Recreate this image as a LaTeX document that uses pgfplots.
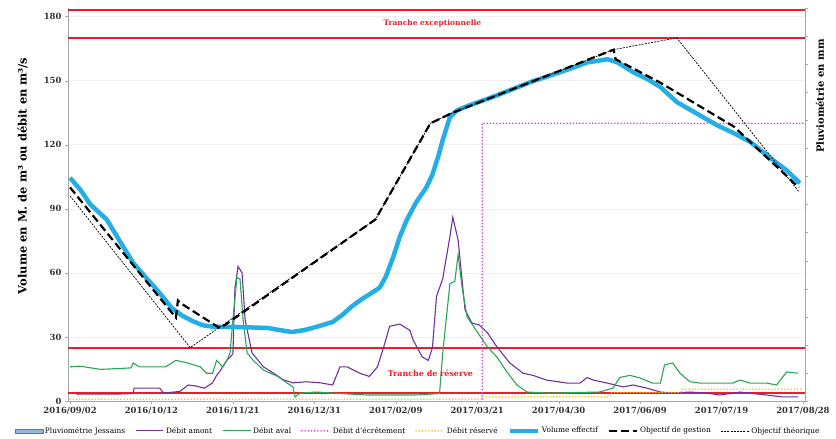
\documentclass[border=0pt]{standalone}
\usepackage{fontspec}
\setmainfont{DejaVu Serif}
\usepackage{pgfplots}
\pgfplotsset{compat=1.18}

\definecolor{volcyan}{RGB}{35,175,230}
\definecolor{amont}{RGB}{112,48,160}
\definecolor{aval}{RGB}{40,165,85}
\definecolor{seuil}{RGB}{232,30,40}
\definecolor{ecret}{RGB}{225,70,220}
\definecolor{reserve}{RGB}{240,200,30}
\definecolor{pluiefill}{RGB}{150,180,220}
\definecolor{pluiedraw}{RGB}{80,120,190}

\begin{document}
\begin{tikzpicture}
\begin{axis}[
  width=737bp, height=393bp, scale only axis,
  xmin=-1, xmax=361, ymin=0, ymax=184,
  axis x line*=bottom, axis y line*=left,
  axis line style={gray!70, line width=0.8pt},
  tick style={gray!70}, major tick length=3pt, tick align=outside,
  xtick={0,40,...,360},
  xticklabels={2016/09/02,2016/10/12,2016/11/21,2016/12/31,2017/02/09,2017/03/21,2017/04/30,2017/06/09,2017/07/19,2017/08/28},
  ytick={0,30,...,180},
  ymajorgrids, grid style={gray!12},
  /pgf/number format/assume math mode=true,
  ticklabel style={font=\bfseries\fontsize{8.5}{10}\selectfont, text=black!80},
  ylabel={Volume en M. de m³ ou débit en m³/s},
  ylabel style={font=\bfseries\fontsize{11.5}{13}\selectfont, at={(axis description cs:-0.05,0.573)}, anchor=south},
  legend columns=8,
  legend style={at={(axis description cs:0.475,-0.076)}, anchor=center, draw=none, fill=none,
    font=\fontsize{7.4}{9}\selectfont,
    /tikz/every even column/.append style={column sep=8pt}},
  legend image code/.code={\draw[#1] (0pt,0pt) -- (28pt,0pt);},
]
% lignes de tranche
\addplot[seuil, line width=1.3pt, forget plot] coordinates {(-1,183) (361,183)};
\addplot[seuil, line width=1.3pt, forget plot] coordinates {(-1,170) (361,170)};
\addplot[seuil, line width=1.3pt, forget plot] coordinates {(-1,24.8) (361,24.8)};
\addplot[seuil, line width=1.3pt, forget plot] coordinates {(-1,3.7) (361,3.7)};

\addlegendimage{legend image code/.code={\draw[fill=pluiefill, draw=pluiedraw] (0pt,-2pt) rectangle (28pt,2pt);}}
\addlegendentry{Pluviométrie Jessains}

\addplot[amont, line width=1.1pt] coordinates {
(3,3.2) (15,3.2) (25,3.3) (31,3.5) (31.5,6) (44,6) (46,3.7) (54,4.5) (58,7.5) (62,7) (66,6)
(70,8.5) (72,12) (74,14.5) (77,19) (80,22) (81,53) (82.5,63) (84.5,60) (86,38) (89.4,22.5)
(95,16) (100,13) (104.6,10) (109.5,8.5) (116,9) (123,8.5) (129,7.5) (132.6,16) (136,16)
(142.4,13) (147,11.5) (151,16) (154,25) (157,35) (162,36) (167,33) (168.5,28.6) (173,20.6)
(176,19) (178,25) (180,49) (183,57) (186.6,77) (188,86) (190.6,75.5) (194,42.7) (197.4,36.5)
(201,35.6) (205,32) (209.7,25.3) (216,17.8) (222.5,13) (227.4,12) (234,9.8) (244,8.4)
(250.5,8.4) (254,11) (257,9.8) (263.8,8.4) (271.6,6.6) (276.5,7.5) (283.4,6) (290,4.2)
(296,3.7) (304.5,4.2) (313,3.7) (319,2.8) (325.6,3.7) (329,4.2) (342,2.8) (350,1.9) (357.6,1.9)
};
\addlegendentry{Débit amont}

\addplot[aval, line width=1.1pt] coordinates {
(0,16) (5,16.3) (15,14.8) (30,15.5) (31,17.8) (34,16) (47,16) (52,19) (57,18) (64,16) (67,13)
(70,13) (72,19) (75,16) (77,19) (78.6,22.5) (80,38) (82,58) (83.5,57) (85,38) (87,22.5)
(90,19) (95,14.5) (102,11.5) (106.5,8.5) (109.5,6.6) (110.5,1.9) (113,3.7) (121,4.2)
(129,3.7) (146,2.8) (170,2.8) (181.5,3.5) (183,22) (186.6,55) (189,56) (190.6,68.5)
(192.5,53.5) (195,39.4) (201,31) (205,25.3) (209.7,20.6) (214.6,13.6) (219.5,7.5)
(224.5,4.2) (235.8,3.7) (260,4.2) (266.7,6) (270,11) (275,12) (280,10.8) (286,8.4) (290,8.4)
(292,16.9) (296,17.8) (299.6,13) (304.5,9) (309.4,8.4) (315.8,8.4) (325.6,8.4) (329,9.8)
(334,8.4) (342,8.4) (347,7.5) (352,13.6) (357.6,13)
};
\addlegendentry{Débit aval}

\addplot[ecret, line width=1.8pt, line cap=round, dash pattern=on 0pt off 3.2pt] coordinates {
(202.5,1) (202.5,130) (361,130)
};
\addlegendentry{Débit d'écrêtement}

\addplot[reserve, line width=1.8pt, line cap=round, dash pattern=on 0pt off 3.2pt] coordinates {
(0,0.8) (202,0.8) (203,2) (265,2) (266,4) (300,4) (301,5.5) (360,5.5)
};
\addlegendentry{Débit réservé}

\addplot[volcyan, line width=4.5pt, line join=round] coordinates {
(0,104.5) (5,99) (10,92) (18,85) (25,74) (31,64.7) (38,57) (44,50.6) (50,43.5) (55,40)
(60,37.5) (65,35.5) (70,34.8) (80,34.7) (90,34.4) (97,34.2) (103,33.2) (109,32.3) (115,33.2)
(121,34.7) (129,37) (134,40.5) (138,44) (143,47.5) (148,50.5) (152,53) (155,58) (158.6,67)
(162,77) (165.5,85) (170,93) (175,100) (178,106) (181,115) (183,122) (186.6,133) (190,136)
(195,138) (208,142.5) (227,149.6) (244,155) (254,158.5) (264,160) (269,158.5) (276.5,154)
(283,151) (290,147) (298,140) (304.5,136.4) (318,129) (325.6,125.6) (334,121.4) (345,113)
(352,108) (358.5,102)
};
\addlegendentry{Volume effectif}

\addplot[black, line width=2.2pt, dash pattern=on 8pt off 4pt] coordinates {
(0,100) (52,39) (53,47) (54,46) (73.7,34) (150,85) (177,130) (188,135) (267,164.5) (268,160)
(290,149) (326,128.5) (358,100)
};
\addlegendentry{Objectif de gestion}

\addplot[black, line width=0.7pt, dash pattern=on 2pt off 1.2pt] coordinates {
(0,96) (59,25) (150,85) (177,130) (188,135) (267,164.5) (298,170) (358,98)
};
\addlegendentry{Objectif théorique}

\node[text=seuil, font=\bfseries\fontsize{7.5}{9}\selectfont] at (axis cs:178,177) {Tranche exceptionnelle};
\node[text=seuil, font=\bfseries\fontsize{8}{9}\selectfont] at (axis cs:177,13) {Tranche de réserve};
\end{axis}

\begin{axis}[
  width=737bp, height=393bp, scale only axis,
  xmin=-1, xmax=361, ymin=0, ymax=140,
  axis x line=none, axis y line*=right,
  axis line style={gray!70, line width=0.8pt},
  tick style={gray!70}, major tick length=3pt, tick align=outside,
  ytick distance=10, yticklabels={},
  ylabel={Pluviométrie en mm},
  ylabel style={font=\bfseries\fontsize{10}{12}\selectfont, at={(axis description cs:1.01,0.776)}, anchor=north},
]
\end{axis}
\pgfresetboundingbox
\path[use as bounding box] (-68bp,-38bp) rectangle (768bp,401bp);
\end{tikzpicture}
\end{document}
